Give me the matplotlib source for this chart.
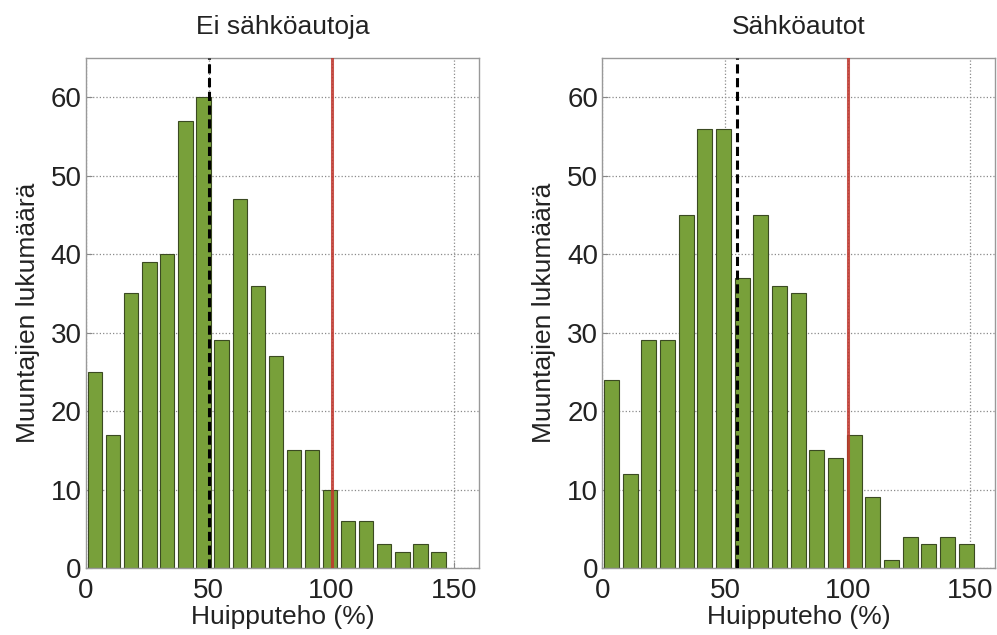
import numpy as np
import matplotlib.pyplot as plt

# Bin centres (%) and transformer counts
centers_no_ev = [3.7, 11.0, 18.4, 25.8, 33.1, 40.5, 47.8, 55.2, 62.6, 69.9,
                 77.3, 84.6, 92.0, 99.4, 106.7, 114.1, 121.4, 128.8, 136.2, 143.5]
counts_no_ev = [25, 17, 35, 39, 40, 57, 60, 29, 47, 36,
                27, 15, 15, 10, 6, 6, 3, 2, 3, 2]

centers_ev = [3.8, 11.4, 19.0, 26.6, 34.2, 41.8, 49.4, 57.0, 64.6, 72.2,
              79.8, 87.4, 95.0, 102.6, 110.2, 117.8, 125.4, 133.0, 140.6, 148.2]
counts_ev = [24, 12, 29, 29, 45, 56, 56, 37, 45, 36,
             35, 15, 14, 17, 9, 1, 4, 3, 4, 3]

titles = ['Ei sähköautoja', 'Sähköautot']
mean_lines = [50, 55]
limit_line = 100
x_ticks = [0, 50, 100, 150]
y_ticks = [0, 10, 20, 30, 40, 50, 60]

plt.rcParams['font.family'] = ['Liberation Sans', 'DejaVu Sans']

bar_color = '#78a03a'
edge_color = '#3b4a22'
red = '#c0362c'


def draw_panel(ax, centers, counts, title, mean_x):
    pitch = centers[1] - centers[0]
    ax.bar(centers, counts, width=0.8 * pitch, color=bar_color,
           edgecolor=edge_color, linewidth=0.8, zorder=2)
    ax.axvline(limit_line, color=red, linewidth=2.2, alpha=0.85, zorder=3)
    ax.axvline(mean_x, color='black', linewidth=2.2, linestyle=(0, (3, 1.5)), zorder=4)
    ax.set_xlim(0, 160)
    ax.set_ylim(0, 65)
    ax.set_xticks(x_ticks)
    ax.set_yticks(y_ticks)
    ax.grid(True, linestyle=':', color='#8a8a8a', linewidth=0.9, zorder=0)
    ax.set_axisbelow(True)
    ax.tick_params(direction='in', length=4, color='#888888', labelsize=20,
                   labelcolor='#222222')
    ax.tick_params(axis='x', pad=7)
    ax.tick_params(axis='y', pad=3)
    for spine in ax.spines.values():
        spine.set_color('#999999')
        spine.set_linewidth(1.0)
    ax.set_title(title, fontsize=19, pad=17, color='#222222')
    ax.set_xlabel('Huipputeho (%)', fontsize=19, labelpad=1, color='#222222')
    ax.set_ylabel('Muuntajien lukumäärä', fontsize=19, labelpad=8, color='#222222')


fig = plt.figure(figsize=(9.97, 6.35), dpi=100)
ax1 = fig.add_axes([0.0863, 0.1055, 0.3941, 0.8032])
ax2 = fig.add_axes([0.6041, 0.1055, 0.3939, 0.8032])

draw_panel(ax1, centers_no_ev, counts_no_ev, titles[0], mean_lines[0])
draw_panel(ax2, centers_ev, counts_ev, titles[1], mean_lines[1])

fig.savefig('out.png', dpi=100)
